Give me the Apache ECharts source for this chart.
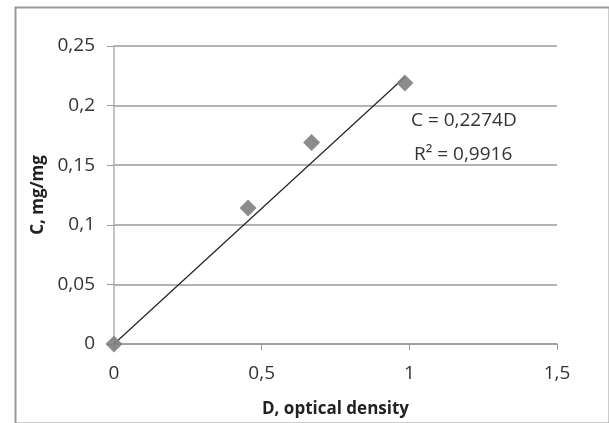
<!DOCTYPE html>
<html>
<head>
<meta charset="utf-8">
<script src="https://cdn.jsdelivr.net/npm/echarts@6/dist/echarts.min.js"></script>
<style>
html,body{margin:0;padding:0;background:#fff;}
#chart{width:609px;height:423px;}
</style>
</head>
<body>
<div id="chart"></div>
<script>
// Data
const densityD = [0, 0.454, 0.669, 0.985];
const concentrationC = [0, 0.114, 0.169, 0.219];
const trendSlope = 0.2274;
const rSquared = '0,9916';
const xTicks = [0, 0.5, 1, 1.5];
const yTicks = [0, 0.05, 0.1, 0.15, 0.2, 0.25];

const points = densityD.map((d, i) => [d, concentrationC[i]]);
const maxD = Math.max(...densityD);
const trendPoints = [[0, 0], [maxD, trendSlope * maxD]];

const fmt = v => String(Math.round(v * 100) / 100).replace('.', ',');
const FONT = '"Open Sans"';

const chart = echarts.init(document.getElementById('chart'), null, {renderer: 'canvas'});
chart.setOption({
  animation: false,
  backgroundColor: '#fff',
  grid: {left: 114, right: 52, top: 46, bottom: 76},
  xAxis: {
    type: 'value', min: 0, max: 1.5, interval: 0.5,
    name: 'D, optical density', nameLocation: 'middle', nameGap: 57,
    nameTextStyle: {fontFamily: FONT, fontSize: 17, fontWeight: 'bold', color: '#222'},
    axisLine: {show: true, lineStyle: {color: '#9a9a9a', width: 1.5}},
    axisTick: {show: true, length: 6, lineStyle: {color: '#9a9a9a'}},
    axisLabel: {fontFamily: FONT, fontSize: 19, color: '#333', margin: 20, formatter: fmt},
    splitLine: {show: false}
  },
  yAxis: {
    type: 'value', min: 0, max: 0.25, interval: 0.05,
    name: 'C, mg/mg', nameLocation: 'middle', nameGap: 59, nameRotate: 90,
    nameTextStyle: {fontFamily: FONT, fontSize: 17, fontWeight: 'bold', color: '#222'},
    axisLine: {show: true, lineStyle: {color: '#b0b0b0', width: 1.5}},
    axisTick: {show: true, length: 7, lineStyle: {color: '#9a9a9a'}},
    axisLabel: {fontFamily: FONT, fontSize: 19, color: '#333', margin: 19, formatter: fmt},
    splitLine: {show: true, lineStyle: {color: '#9a9a9a', width: 1.5}}
  },
  series: [
    {
      type: 'line', data: trendPoints, symbol: 'none', z: 2,
      lineStyle: {color: '#222', width: 1.2}
    },
    {
      type: 'scatter', data: points, symbol: 'diamond', symbolSize: 17, z: 3,
      itemStyle: {color: '#7f7f7f', opacity: 0.9}
    }
  ],
  graphic: [
    {type: 'rect', left: 13, top: 5, shape: {width: 594, height: 416},
     style: {fill: 'none', stroke: '#9a9a9a', lineWidth: 2}, silent: true},
    {type: 'text', left: 411, top: 111,
     style: {text: 'C = 0,' + String(trendSlope).split('.')[1] + 'D', font: '19px "Open Sans"', fill: '#333'}},
    {type: 'text', left: 414, top: 145,
     style: {text: 'R² = ' + rSquared, font: '19px "Open Sans"', fill: '#333'}}
  ]
});
</script>
</body>
</html>
